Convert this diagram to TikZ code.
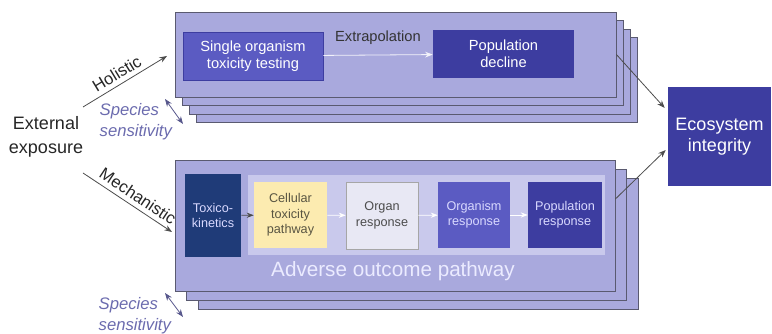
\documentclass[tikz,border=0pt]{standalone}
\usepackage{fontspec}
\setmainfont{Liberation Sans}
\usepackage{xcolor}
\usetikzlibrary{arrows.meta,positioning,calc}
\definecolor{layerfill}{HTML}{A9A9DD}
\definecolor{layerline}{HTML}{5A5A70}
\definecolor{midblue}{HTML}{5B5BC2}
\definecolor{darkblue}{HTML}{3D3DA0}
\definecolor{navyblue}{HTML}{1F3B78}
\definecolor{paleyellow}{HTML}{FCEBB0}
\definecolor{paleorgan}{HTML}{E8E8F4}
\definecolor{bandfill}{HTML}{C9C9EC}
\definecolor{speciescol}{HTML}{6B6BAE}
\tikzset{
  layer/.style={draw=layerline,fill=layerfill,line width=0.6pt,inner sep=0pt},
  stepbox/.style={inner sep=1pt,align=center,font=\fontsize{9.5}{11.5}\selectfont},
  bigbox/.style={inner sep=1pt,align=center,text=white,font=\fontsize{11}{13}\selectfont},
  species/.style={text=speciescol,align=left,anchor=west,font=\itshape\fontsize{12.5}{15.5}\selectfont},
  route/.style={->,draw=black!70,line width=0.6pt},
}
\begin{document}
\begin{tikzpicture}[>=Stealth,x=0.75pt,y=-0.75pt]
\useasboundingbox (0,0) rectangle (772,334);
% holistic stack
\foreach \i in {3,2,1}
  \node[layer,minimum width=330.75pt,minimum height=63.75pt] at (395.5+7*\i,54.5+8.5*\i) {};
\node[layer,minimum width=330.75pt,minimum height=63.75pt] (holbox) at (395.5,54.5) {};
\node[bigbox,fill=midblue,draw=darkblue,minimum width=105pt,minimum height=36pt] (single) at (253,56) {Single organism\\toxicity testing};
\node[bigbox,fill=darkblue,minimum width=105.75pt,minimum height=36pt] (popdec) at (503.5,54) {Population\\decline};
\draw[->,white!85!layerfill,line width=0.6pt] (single) -- node[above=4pt,text=black!80,font=\fontsize{11}{13}\selectfont] {Extrapolation} (popdec);
% mechanistic stack
\foreach \i in {2,1}
  \node[layer,minimum width=330pt,minimum height=98.25pt] at (395+11.5*\i,225.5+9*\i) {};
\node[layer,minimum width=330pt,minimum height=98.25pt] (aopbox) at (395,225.5) {};
\node[fill=bandfill,inner sep=0pt,minimum width=267.75pt,minimum height=60pt] (band) at (426.5,215) {};
\node[stepbox,fill=navyblue,text=white!85!blue,minimum width=42pt,minimum height=62.25pt] (toxico) at (213,215.5) {Toxico-\\kinetics};
\node[stepbox,fill=paleyellow,text=black!75!yellow,minimum width=54.75pt,minimum height=49.5pt] (cellular) at (290.5,215) {Cellular\\toxicity\\pathway};
\node[stepbox,fill=paleorgan,draw=black!35,text=black!70,minimum width=54pt,minimum height=50.25pt] (organ) at (382,215.5) {Organ\\response};
\node[stepbox,fill=midblue,text=white!85!blue,minimum width=54pt,minimum height=49.5pt] (organism) at (474,215) {Organism\\response};
\node[stepbox,fill=darkblue,text=white!85!blue,minimum width=55.5pt,minimum height=49.5pt] (poprsp) at (565,215) {Population\\response};
\draw[->,black!70,line width=0.5pt] (toxico) -- (cellular);
\draw[->,white,line width=0.5pt] (cellular) -- (organ);
\draw[->,white,line width=0.5pt] (organ) -- (organism);
\draw[->,white,line width=0.5pt] (organism) -- (poprsp);
\node[text=white!92!blue,font=\fontsize{15.5}{17}\selectfont] (aoplabel) at (393,271) {Adverse outcome pathway};
% ecosystem
\node[bigbox,fill=darkblue,minimum width=77.25pt,minimum height=74.25pt,font=\fontsize{13.5}{16}\selectfont] (eco) at (719.5,136.5) {Ecosystem\\integrity};
\draw[route] (holbox.east) -- ($(eco.west)+(-3,-28.5)$);
\draw[route] ($(aopbox.east)+(0,-26.5)$) -- ($(eco.west)+(-2,13.5)$);
% exposure routes
\node[align=center,text=black!85,font=\fontsize{13.5}{18.5}\selectfont] (exposure) at (46,137) {External\\exposure};
\coordinate (holstart) at (83,107);
\coordinate (holend) at (167,56);
\coordinate (mechstart) at (83,173);
\coordinate (mechend) at (172,232);
\draw[route] (holstart) -- node[sloped,above,pos=0.47,text=black!85,font=\fontsize{12.5}{14}\selectfont] {Holistic} (holend);
\draw[route] (mechstart) -- node[sloped,above,pos=0.55,text=black!85,font=\fontsize{12.5}{14}\selectfont] {Mechanistic} (mechend);
% species sensitivity
\node[species] (spectop) at (95,122) {Species\\sensitivity};
\node[species] (specbot) at (94,316) {Species\\sensitivity};
\coordinate (sptopa) at (165,99);
\coordinate (sptopb) at (183,124);
\coordinate (spbota) at (165,293);
\coordinate (spbotb) at (183,317);
\draw[<->,speciescol!80!black,line width=0.6pt] (sptopa) -- (sptopb);
\draw[<->,speciescol!80!black,line width=0.6pt] (spbota) -- (spbotb);
\end{tikzpicture}
\end{document}
